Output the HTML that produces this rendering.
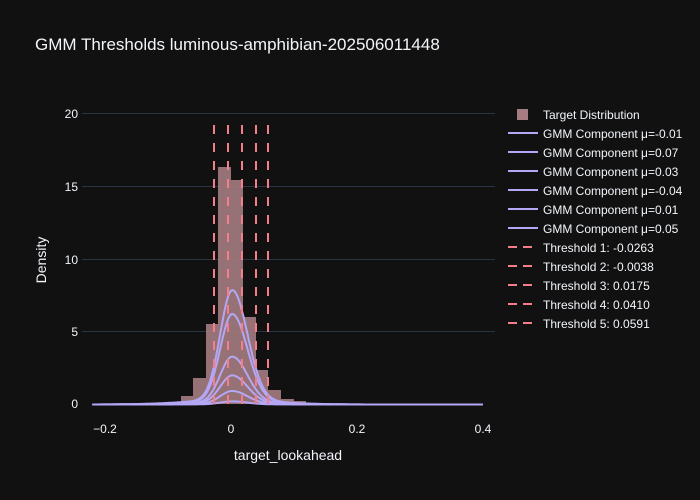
<!DOCTYPE html>
<html><head><meta charset="utf-8"><style>
html,body{margin:0;padding:0;background:#111111;}
svg{display:block;font-family:"Liberation Sans",sans-serif;}
</style></head><body>
<svg id="s" width="700" height="500" xmlns="http://www.w3.org/2000/svg">
<rect width="700" height="500" fill="#111111"/>
<text x="35" y="50" fill="#f2f5fa" font-size="17">GMM Thresholds luminous-amphibian-202506011448</text>
<g stroke="#283442" stroke-width="1">
<line x1="82" x2="495" y1="113.5" y2="113.5"/>
<line x1="82" x2="495" y1="186.5" y2="186.5"/>
<line x1="82" x2="495" y1="259.5" y2="259.5"/>
<line x1="82" x2="495" y1="331.5" y2="331.5"/>
</g>
<g fill="#f2f5fa" font-size="12" text-anchor="end">
<text x="78" y="118">20</text><text x="78" y="191">15</text><text x="78" y="264">10</text><text x="78" y="336">5</text><text x="78" y="408">0</text>
</g>
<g fill="#f2f5fa" font-size="12" text-anchor="middle">
<text x="105" y="433">−0.2</text><text x="231" y="433">0</text><text x="357" y="433">0.2</text><text x="483" y="433">0.4</text>
</g>
<text x="288" y="460" fill="#f2f5fa" font-size="14" text-anchor="middle">target_lookahead</text>
<text x="46" y="260" fill="#f2f5fa" font-size="14" text-anchor="middle" transform="rotate(-90 46 260)">Density</text>
<g fill="#a57c81" fill-opacity="0.9">
<rect x="168" y="402" width="13" height="2"/>
<rect x="181" y="396" width="12" height="8"/>
<rect x="193" y="378" width="13" height="26"/>
<rect x="206" y="324" width="12" height="80"/>
<rect x="218" y="167" width="13" height="237"/>
<rect x="231" y="180" width="12" height="224"/>
<rect x="243" y="317" width="13" height="87"/>
<rect x="256" y="370" width="12" height="34"/>
<rect x="268" y="390" width="13" height="14"/>
<rect x="281" y="399" width="13" height="5"/>
<rect x="294" y="401" width="12" height="3"/>
</g>
<g id="curves" fill="none" stroke="#b4a7f5" stroke-width="2"></g>
<g stroke="#f47f8a" stroke-width="2" stroke-dasharray="9,9">
<line x1="214" x2="214" y1="125" y2="404"/>
<line x1="228" x2="228" y1="125" y2="404"/>
<line x1="242" x2="242" y1="125" y2="404"/>
<line x1="256" x2="256" y1="125" y2="404"/>
<line x1="268" x2="268" y1="125" y2="404"/>
</g>
<g font-size="12" fill="#f2f5fa">
<rect x="517" y="109" width="11" height="11" fill="#a57c81"/>
<text x="543" y="119">Target Distribution</text>
<g stroke="#b4a7f5" stroke-width="2">
<line x1="508" x2="538" y1="133" y2="133"/><line x1="508" x2="538" y1="152" y2="152"/><line x1="508" x2="538" y1="171" y2="171"/><line x1="508" x2="538" y1="190" y2="190"/><line x1="508" x2="538" y1="209" y2="209"/><line x1="508" x2="538" y1="228" y2="228"/>
</g>
<g stroke="#f47f8a" stroke-width="2" stroke-dasharray="9,6">
<line x1="508" x2="538" y1="247" y2="247"/><line x1="508" x2="538" y1="266" y2="266"/><line x1="508" x2="538" y1="285" y2="285"/><line x1="508" x2="538" y1="304" y2="304"/><line x1="508" x2="538" y1="323" y2="323"/>
</g>
<text x="543" y="138">GMM Component μ=-0.01</text>
<text x="543" y="157">GMM Component μ=0.07</text>
<text x="543" y="176">GMM Component μ=0.03</text>
<text x="543" y="195">GMM Component μ=-0.04</text>
<text x="543" y="214">GMM Component μ=0.01</text>
<text x="543" y="233">GMM Component μ=0.05</text>
<text x="543" y="252">Threshold 1: -0.0263</text>
<text x="543" y="271">Threshold 2: -0.0038</text>
<text x="543" y="290">Threshold 3: 0.0175</text>
<text x="543" y="309">Threshold 4: 0.0410</text>
<text x="543" y="328">Threshold 5: 0.0591</text>
</g>
<script>
(function(){
var g=document.getElementById('curves');var amps=[110,87,46,28,13,3];
amps.forEach(function(A){var d='';for(var i=0;i<=400;i++){var x=-0.22+0.62*i/400;var s=x<0.002?0.019:0.024;
var y=A*Math.exp(-Math.pow(x-0.002,2)/(2*s*s))+A*0.04*Math.exp(-x*x/(2*0.07*0.07))+0.5;
var px=231+630*x,py=404-y+1;d+=(i?'L':'M')+px.toFixed(1)+' '+py.toFixed(1);}
var p=document.createElementNS('http://www.w3.org/2000/svg','path');p.setAttribute('d',d);g.appendChild(p);});
})();
</script>
</svg>
</body></html>
